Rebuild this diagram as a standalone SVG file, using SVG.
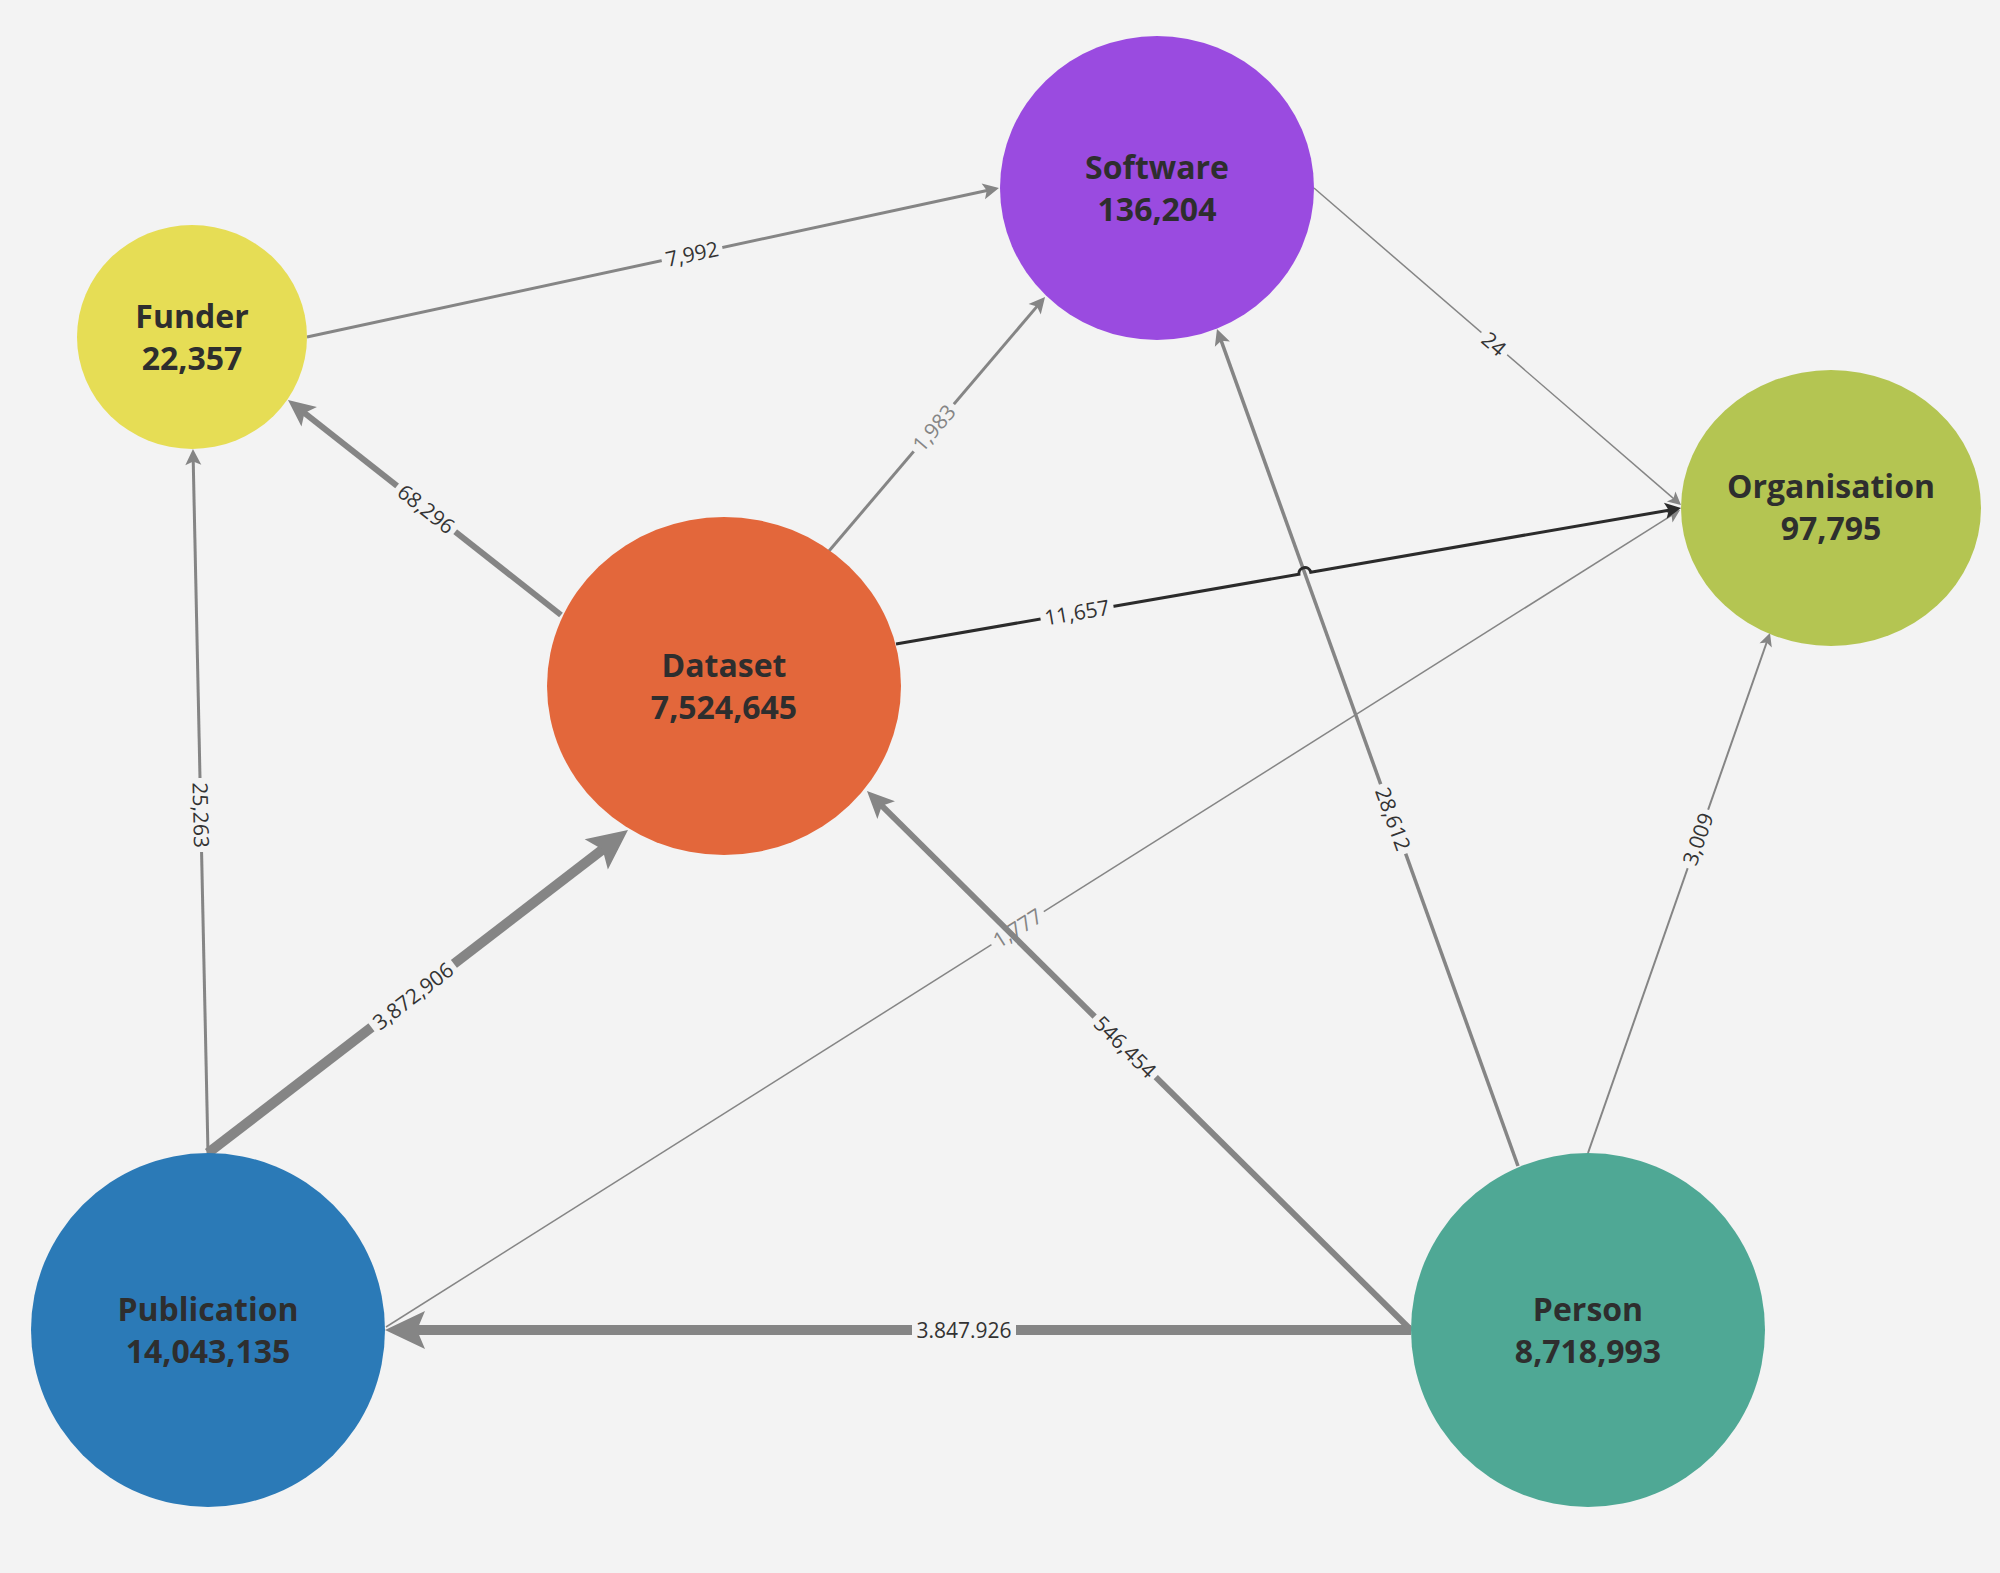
<svg xmlns="http://www.w3.org/2000/svg" width="2000" height="1573" viewBox="0 0 2000 1573">
<style>
.bg{fill:#f3f3f3}
.e{fill:none;stroke:#858585;stroke-linecap:butt}
.ed{fill:none;stroke:#2b2b2b}
.lb rect{fill:#f3f3f3}
.lb text{font-family:"Open Sans","Noto Sans","DejaVu Sans",sans-serif;font-size:21px;fill:#333;text-anchor:middle}
.lb.g text{fill:#858585}
.n text{font-family:"Open Sans","Noto Sans","DejaVu Sans",sans-serif;font-size:32px;font-weight:bold;fill:#2e2e2e;text-anchor:middle}
</style>
<defs>
<marker id="h40" viewBox="-40 -20 40 40" refX="-30" refY="0" markerWidth="40" markerHeight="40" markerUnits="userSpaceOnUse" orient="auto" overflow="visible"><path d="M0,0 L-40,-19 L-32,0 L-40,19 Z" fill="#858585"/></marker>
<marker id="h26" viewBox="-27 -13 27 26" refX="-20" refY="0" markerWidth="27" markerHeight="26" markerUnits="userSpaceOnUse" orient="auto" overflow="visible"><path d="M0,0 L-27,-12.5 L-21,0 L-27,12.5 Z" fill="#858585"/></marker>
<marker id="h16" viewBox="-16 -8 16 16" refX="-11" refY="0" markerWidth="16" markerHeight="16" markerUnits="userSpaceOnUse" orient="auto" overflow="visible"><path d="M0,0 L-16,-8 L-12.5,0 L-16,8 Z" fill="#858585"/></marker>
<marker id="h16d" viewBox="-16 -8 16 16" refX="-11" refY="0" markerWidth="16" markerHeight="16" markerUnits="userSpaceOnUse" orient="auto" overflow="visible"><path d="M0,0 L-16,-8 L-12.5,0 L-16,8 Z" fill="#2b2b2b"/></marker>
<marker id="h13" viewBox="-13 -7 13 14" refX="-9" refY="0" markerWidth="13" markerHeight="14" markerUnits="userSpaceOnUse" orient="auto" overflow="visible"><path d="M0,0 L-13,-6.5 L-10,0 L-13,6.5 Z" fill="#858585"/></marker>
</defs>
<rect class="bg" x="0" y="0" width="2000" height="1573"/>
<g id="connectors">
  <g id="e-pub-org">
    <path class="e" stroke-width="1.5" d="M386,1327 L1672.4,514.8" marker-end="url(#h13)"/>
    <g class="lb g" transform="translate(1017.5,928) rotate(-32.3)"><rect x="-31" y="-11" width="62" height="22"/><text y="7.5">1,777</text></g>
  </g>
  <g id="e-fun-sof">
    <path class="e" stroke-width="3" d="M307,337 L988.2,190.3" marker-end="url(#h16)"/>
    <g class="lb" transform="translate(692,254) rotate(-12.15)"><rect x="-31" y="-11" width="62" height="22"/><text y="7.5">7,992</text></g>
  </g>
  <g id="e-dat-fun">
    <path class="e" stroke-width="6" d="M561,615 L303.7,412.4" marker-end="url(#h26)"/>
    <g class="lb" transform="translate(426,509) rotate(38.2)"><rect x="-37" y="-11" width="74" height="22"/><text y="7.5">68,296</text></g>
  </g>
  <g id="e-dat-sof">
    <path class="e" stroke-width="3" d="M829,551 L1037.9,305.4" marker-end="url(#h16)"/>
    <g class="lb g" transform="translate(934,428) rotate(-49.6)"><rect x="-31" y="-11" width="62" height="22"/><text y="7.5">1,983</text></g>
  </g>
  <g id="e-sof-org">
    <path class="e" stroke-width="1.5" d="M1314,188 L1674.2,499.1" marker-end="url(#h13)"/>
    <g class="lb" transform="translate(1494,344) rotate(40.8)"><rect x="-17" y="-11" width="34" height="22"/><text y="7.5">24</text></g>
  </g>
  <g id="e-pub-fun">
    <path class="e" stroke-width="3" d="M208,1153 L193.2,460" marker-end="url(#h16)"/>
    <g class="lb" transform="translate(200.8,815) rotate(88.8)"><rect x="-37" y="-11" width="74" height="22"/><text y="7.5">25,263</text></g>
  </g>
  <g id="e-pub-dat">
    <path class="e" stroke-width="10" d="M208,1153 L604.2,848.3" marker-end="url(#h40)"/>
    <g class="lb" transform="translate(413,996) rotate(-37.6)"><rect x="-52" y="-11" width="104" height="22"/><text y="7.5">3,872,906</text></g>
  </g>
  <g id="e-per-pub">
    <path class="e" stroke-width="10" d="M1411,1330 L415,1330" marker-end="url(#h40)"/>
    <g class="lb" transform="translate(964,1330)"><rect x="-52" y="-11" width="104" height="22"/><text y="7.5">3.847.926</text></g>
  </g>
  <g id="e-per-sof">
    <path class="e" stroke-width="3.5" d="M1518,1166 L1220.7,339.4" marker-end="url(#h16)"/>
    <g class="lb" transform="translate(1393,819) rotate(70.2)"><rect x="-37" y="-11" width="74" height="22"/><text y="7.5">28,612</text></g>
  </g>
  <g id="e-dat-org">
    <path class="ed" stroke-width="3" d="M896,644 L1298.9,574.2 A6,6 0 0 1 1310.7,572.2 L1670.2,509.9" marker-end="url(#h16d)"/>
    <g class="lb" transform="translate(1077,612.6) rotate(-9.83)"><rect x="-37" y="-11" width="74" height="22"/><text y="7.5">11,657</text></g>
  </g>
  <g id="e-per-org">
    <path class="e" stroke-width="2" d="M1588,1153 L1767,641.5" marker-end="url(#h13)"/>
    <g class="lb" transform="translate(1698,839) rotate(-70.7)"><rect x="-31" y="-11" width="62" height="22"/><text y="7.5">3,009</text></g>
  </g>
  <g id="e-per-dat">
    <path class="e" stroke-width="6" d="M1411,1330 L881.2,805.1" marker-end="url(#h26)"/>
    <g class="lb" transform="translate(1125,1047) rotate(44.7)"><rect x="-43" y="-11" width="86" height="22"/><text y="7.5">546,454</text></g>
  </g>
</g>
<g id="node-funder" class="n">
  <ellipse cx="192" cy="337" rx="115" ry="112" fill="#e6dd55"/>
  <text x="192" y="328">Funder</text><text x="192" y="370">22,357</text>
</g>
<g id="node-software" class="n">
  <ellipse cx="1157" cy="188" rx="157" ry="152" fill="#9a4be0"/>
  <text x="1157" y="179">Software</text><text x="1157" y="221">136,204</text>
</g>
<g id="node-organisation" class="n">
  <ellipse cx="1831" cy="508" rx="150" ry="138" fill="#b4c552"/>
  <text x="1831" y="498">Organisation</text><text x="1831" y="540">97,795</text>
</g>
<g id="node-dataset" class="n">
  <ellipse cx="724" cy="686" rx="177" ry="169" fill="#e3673b"/>
  <text x="724" y="677">Dataset</text><text x="724" y="719">7,524,645</text>
</g>
<g id="node-publication" class="n">
  <ellipse cx="208" cy="1330" rx="177" ry="177" fill="#2b7ab7"/>
  <text x="208" y="1321">Publication</text><text x="208" y="1363">14,043,135</text>
</g>
<g id="node-person" class="n">
  <ellipse cx="1588" cy="1330" rx="177" ry="177" fill="#4fa895"/>
  <text x="1588" y="1321">Person</text><text x="1588" y="1363">8,718,993</text>
</g>
</svg>
